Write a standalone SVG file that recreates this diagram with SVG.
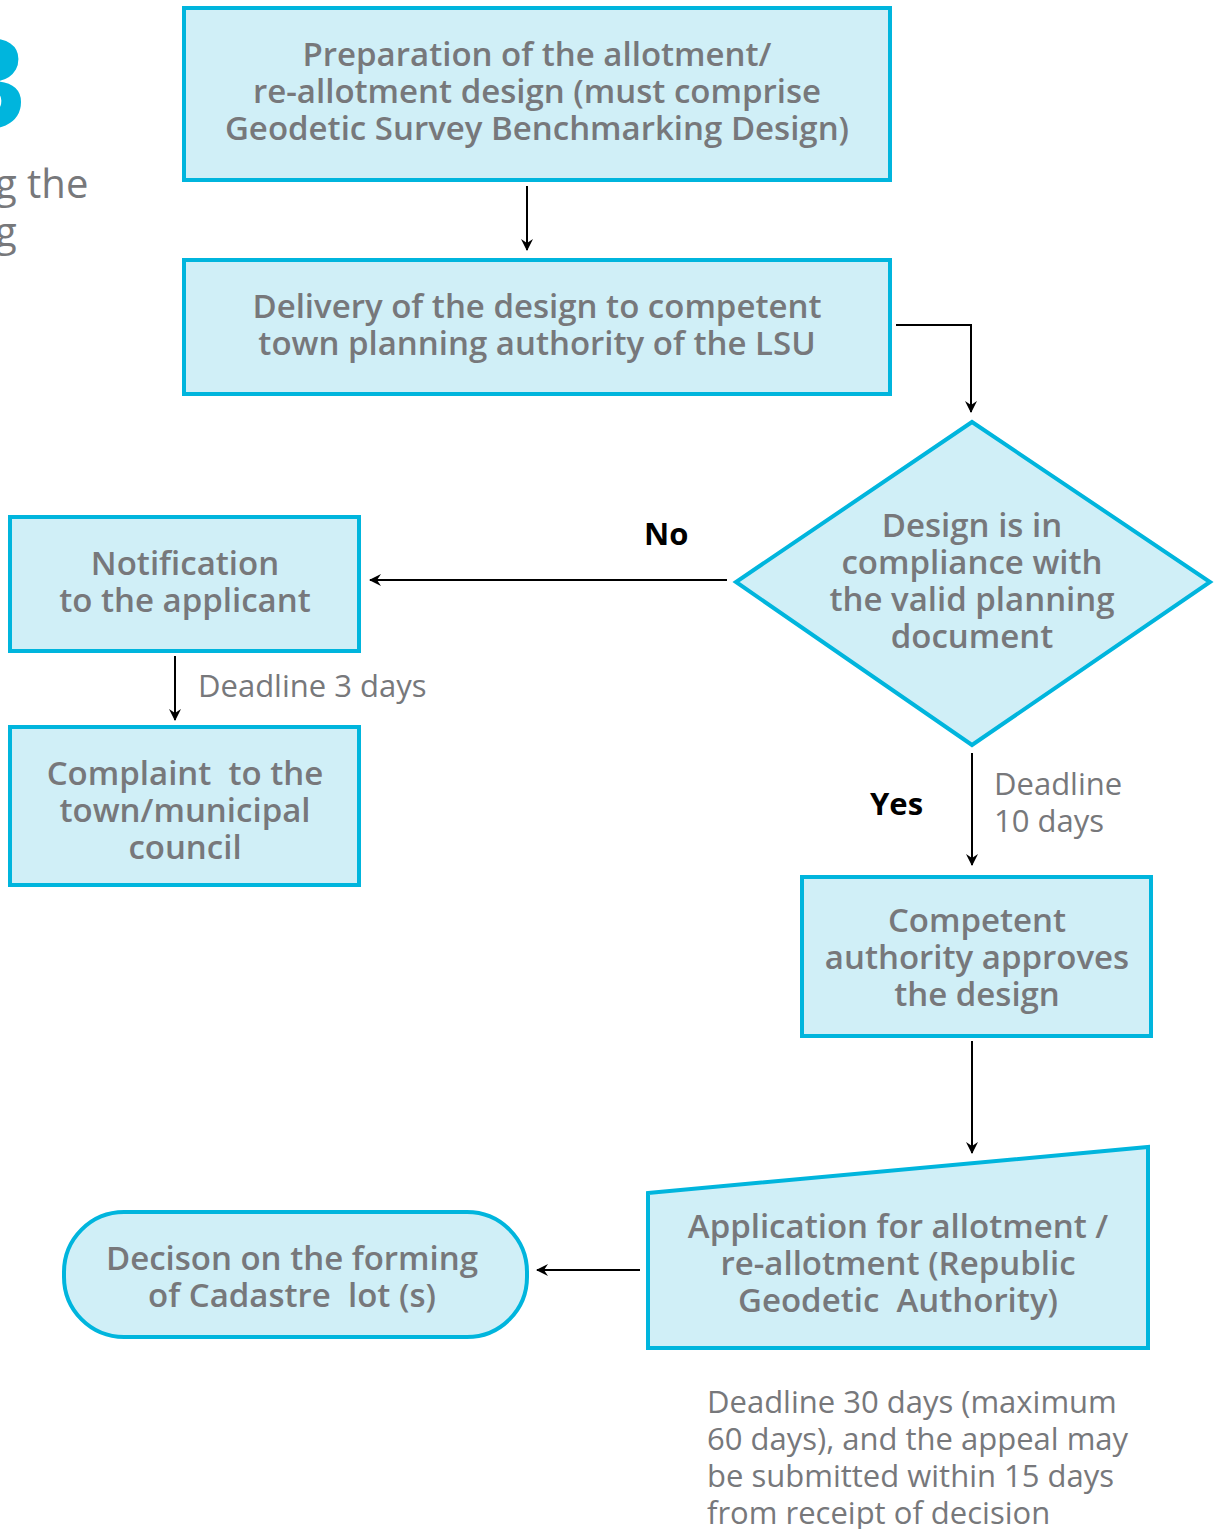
<svg xmlns="http://www.w3.org/2000/svg" width="1216" height="1529" viewBox="0 0 1216 1529">
  <defs>
    <marker id="arrow" viewBox="0 0 12 12" refX="11" refY="6" markerWidth="12" markerHeight="12" markerUnits="userSpaceOnUse" orient="auto">
      <path d="M0,0 L12,6 L0,12 L4,6 Z" fill="#000"/>
    </marker>
    <style>
      .shape { fill: #d0eff7; stroke: #00b5dd; stroke-width: 4; }
      .lbl { font-family: "Open Sans", "Liberation Sans", sans-serif; font-weight: 600; font-size: 33px; fill: #77787b; text-anchor: middle; }
      .note { font-family: "Open Sans", "Liberation Sans", sans-serif; font-weight: 400; font-size: 31px; fill: #77787b; }
      .yn { font-family: "Open Sans", "Liberation Sans", sans-serif; font-weight: 700; font-size: 31px; fill: #000; }
      .conn { fill: none; stroke: #000; stroke-width: 2; marker-end: url(#arrow); }
    </style>
  </defs>
  <rect width="1216" height="1529" fill="#fff"/>

  <!-- page heading fragment at the left edge -->
  <text x="26" y="128" font-family="Open Sans, Liberation Sans, sans-serif" font-weight="700" font-size="124" fill="#00b5dd" text-anchor="end">3</text>
  <text x="-5" y="198" class="note" style="font-size:40px">g the</text>
  <text x="-5" y="246" class="note" style="font-size:40px">g</text>

  <g id="connectors">
    <path class="conn" d="M527,186 L527,250"/>
    <path class="conn" d="M896,325 L971,325 L971,412"/>
    <path class="conn" d="M727,580 L370,580"/>
    <path class="conn" d="M175,656 L175,720"/>
    <path class="conn" d="M972,753 L972,865"/>
    <path class="conn" d="M972,1041 L972,1153"/>
    <path class="conn" d="M640,1270 L537,1270"/>
  </g>

  <g id="prep">
    <rect class="shape" x="184" y="8" width="706" height="172"/>
    <text class="lbl" x="537" y="66">Preparation of the allotment/</text>
    <text class="lbl" x="537" y="103">re-allotment design (must comprise</text>
    <text class="lbl" x="537" y="140">Geodetic Survey Benchmarking Design)</text>
  </g>

  <g id="delivery">
    <rect class="shape" x="184" y="260" width="706" height="134"/>
    <text class="lbl" x="537" y="318">Delivery of the design to competent</text>
    <text class="lbl" x="537" y="355">town planning authority of the LSU</text>
  </g>

  <g id="compliance">
    <polygon class="shape" points="972,422 1210,582 972,745 736,582"/>
    <text class="lbl" x="972" y="537">Design is in</text>
    <text class="lbl" x="972" y="574">compliance with</text>
    <text class="lbl" x="972" y="611">the valid planning</text>
    <text class="lbl" x="972" y="648">document</text>
  </g>

  <text class="yn" x="644" y="545">No</text>
  <text class="yn" x="870" y="815">Yes</text>

  <g id="notification">
    <rect class="shape" x="10" y="517" width="349" height="134"/>
    <text class="lbl" x="185" y="575">Notification</text>
    <text class="lbl" x="185" y="612">to the applicant</text>
  </g>

  <text class="note" x="198" y="697">Deadline 3 days</text>

  <g id="complaint">
    <rect class="shape" x="10" y="727" width="349" height="158"/>
    <text class="lbl" x="185" y="785">Complaint&#160; to the</text>
    <text class="lbl" x="185" y="822">town/municipal</text>
    <text class="lbl" x="185" y="859">council</text>
  </g>

  <text class="note" x="994" y="795">Deadline</text>
  <text class="note" x="994" y="832">10 days</text>

  <g id="approval">
    <rect class="shape" x="802" y="877" width="349" height="159"/>
    <text class="lbl" x="977" y="932">Competent</text>
    <text class="lbl" x="977" y="969">authority approves</text>
    <text class="lbl" x="977" y="1006">the design</text>
  </g>

  <g id="application">
    <polygon class="shape" points="648,1193 1148,1147 1148,1348 648,1348"/>
    <text class="lbl" x="898" y="1238">Application for allotment /</text>
    <text class="lbl" x="898" y="1275">re-allotment (Republic</text>
    <text class="lbl" x="898" y="1312">Geodetic&#160; Authority)</text>
  </g>

  <g id="decision">
    <rect class="shape" x="64" y="1212" width="463" height="125" rx="60" ry="60"/>
    <text class="lbl" x="292" y="1270">Decison on the forming</text>
    <text class="lbl" x="292" y="1307">of Cadastre&#160; lot (s)</text>
  </g>

  <g id="deadline-note">
    <text class="note" x="707" y="1413">Deadline 30 days (maximum</text>
    <text class="note" x="707" y="1450">60 days), and the appeal may</text>
    <text class="note" x="707" y="1487">be submitted within 15 days</text>
    <text class="note" x="707" y="1524">from receipt of decision</text>
  </g>
</svg>
